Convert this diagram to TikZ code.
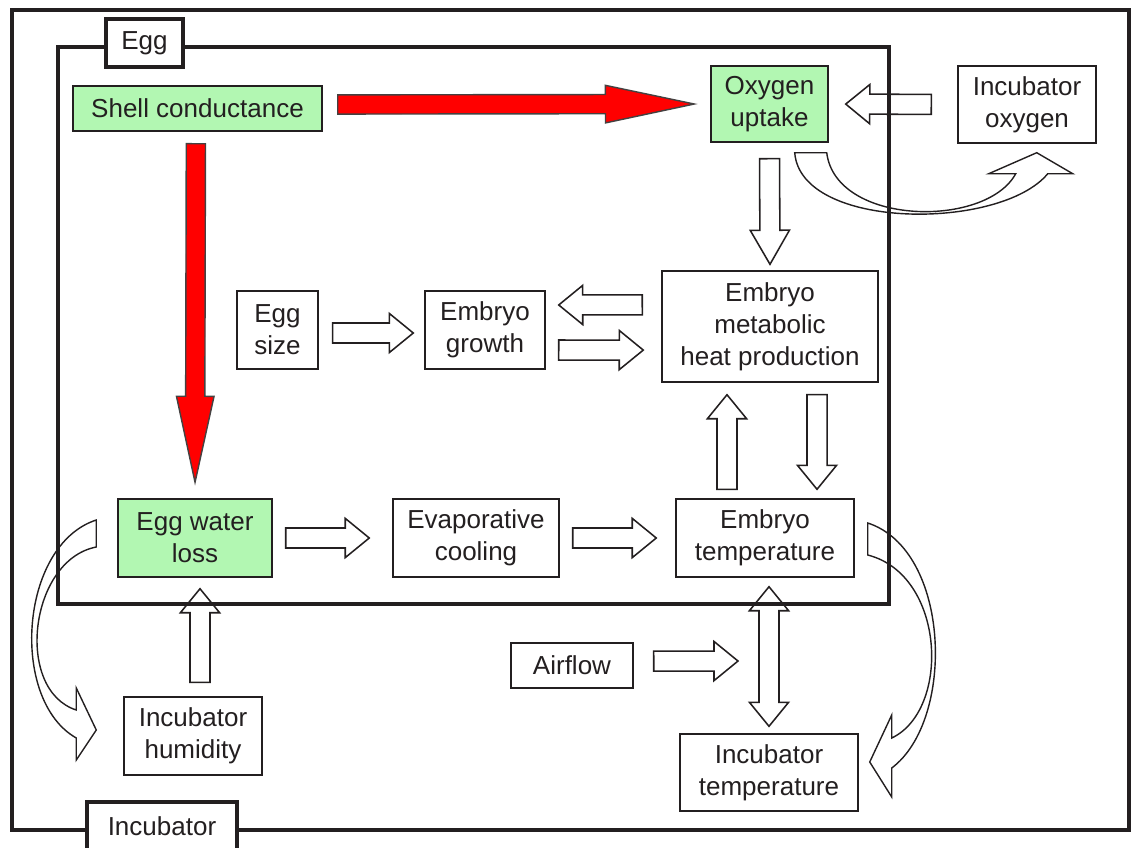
\documentclass[tikz,border=0pt]{standalone}
\usepackage{fontspec}
\setmainfont{Liberation Sans}
\usepackage{tikz}
\usetikzlibrary{calc}
\definecolor{lgreen}{RGB}{178,247,178}
\definecolor{ink}{RGB}{35,31,32}
\newcommand\fs{\fontsize{18.5}{22.8}\selectfont}
\tikzset{bx/.style={draw=ink,line width=1pt,text=ink,align=center,inner sep=0pt,font=\fs},
  gbx/.style={bx,fill=lgreen},
  tab/.style={draw=ink,fill=white,line width=2.2pt,text=ink,inner sep=0pt,font=\fs},
  wall/.style={draw=ink,line width=2.9pt},
  ribbon/.style={draw=ink,line width=1pt,line join=miter},
  fat tail/.store in=\fattail, fat tip/.store in=\fattip,
  fat shaft/.store in=\fatshaft, fat head/.store in=\fathead, fat len/.store in=\fatlen,
  fat tail=0.3cm, fat tip=0.3cm, fat shaft=0.25cm, fat head=0.49cm, fat len=0.6cm,
  fat/.style={draw=ink,line width=1.1pt,line join=miter,to path={
    let \p1=($(\tikztostart)!\fattail!(\tikztotarget)$),
        \p2=($(\tikztotarget)!\fattip!(\tikztostart)$),
        \p3=($(\p2)!\fatlen!(\p1)$) in
    ($(\p1)!\fatshaft!90:(\p2)$) -- ($(\p3)!\fatshaft!-90:(\p1)$) -- ($(\p3)!\fathead!-90:(\p1)$)
    -- (\p2) -- ($(\p3)!\fathead!90:(\p1)$) -- ($(\p3)!\fatshaft!90:(\p1)$)
    -- ($(\p1)!\fatshaft!-90:(\p2)$) -- cycle}},
  fatboth/.style={draw=ink,line width=1.1pt,line join=miter,to path={
    let \p1=($(\tikztostart)!\fattail!(\tikztotarget)$),
        \p2=($(\tikztotarget)!\fattip!(\tikztostart)$),
        \p3=($(\p2)!\fatlen!(\p1)$),
        \p4=($(\p1)!\fatlen!(\p2)$) in
    (\p1) -- ($(\p4)!\fathead!90:(\p2)$) -- ($(\p4)!\fatshaft!90:(\p2)$)
    -- ($(\p3)!\fatshaft!-90:(\p1)$) -- ($(\p3)!\fathead!-90:(\p1)$) -- (\p2)
    -- ($(\p3)!\fathead!90:(\p1)$) -- ($(\p3)!\fatshaft!90:(\p1)$)
    -- ($(\p4)!\fatshaft!-90:(\p2)$) -- ($(\p4)!\fathead!-90:(\p2)$) -- cycle}},
  redfat/.style={fat,fill=red,draw=ink!85,line width=1pt,fat shaft=0.24cm,fat head=0.47cm,fat len=2.22cm}}

\begin{document}
\begin{tikzpicture}[x=0.025cm,y=-0.025cm]
    \useasboundingbox (0,0) rectangle (1132,848);
    % incubator and egg walls
    \draw[wall] (12,10) rectangle (1129,830);
    \draw[wall] (58,47) rectangle (889,604);
    \node[tab,minimum width=1.925cm,minimum height=1.2cm] (eggtab) at (144.5,43) {Egg};
    \node[tab,minimum width=3.75cm,minimum height=1.2cm] (inctab) at (162,826) {Incubator};

    \node[gbx,minimum width=6.225cm,minimum height=1.125cm] (shell) at (197.5,108.5) {Shell conductance};
    \node[gbx,minimum width=2.925cm,minimum height=1.9cm] (uptake) at (769.5,104) {Oxygen\\uptake};
    \node[bx,minimum width=3.45cm,minimum height=1.925cm] (incox) at (1027,104.5) {Incubator\\oxygen};
    \node[bx,minimum width=2.025cm,minimum height=1.95cm] (eggsize) at (277.5,330) {Egg\\size};
    \node[bx,minimum width=3cm,minimum height=1.95cm] (growth) at (485,330) {Embryo\\growth};
    \node[bx,minimum width=5.4cm,minimum height=2.775cm] (heat) at (770,326.5) {Embryo\\metabolic\\heat production};
    \node[gbx,minimum width=3.85cm,minimum height=1.95cm] (water) at (195,538) {Egg water\\loss};
    \node[bx,minimum width=4.15cm,minimum height=1.95cm] (evap) at (476,538) {Evaporative\\cooling};
    \node[bx,minimum width=4.45cm,minimum height=1.95cm] (temp) at (765,538) {Embryo\\temperature};
    \node[bx,minimum width=3.05cm,minimum height=1.125cm] (airflow) at (572,665.5) {Airflow};
    \node[bx,minimum width=3.45cm,minimum height=1.95cm] (humid) at (193,736) {Incubator\\humidity};
    \node[bx,minimum width=4.45cm,minimum height=1.925cm] (inctemp) at (769,772.5) {Incubator\\temperature};
    \coordinate (exch) at (770,661);

    % red arrows
    \draw[redfat,fat tail=0.375cm,fat tip=0.4cm] ([yshift=0.1cm]shell.east) to (uptake.west);
    \draw[redfat,fat tail=0.3cm,fat tip=0.4cm,fat len=2.15cm] ([xshift=-0.04cm]shell.south) to (water.north);

    % open arrows
    \draw[fat,fat tail=0.65cm,fat tip=0.425cm] (incox.west) to (uptake.east);
    \draw[fat,fat tail=0.4cm,fat tip=0.15cm,fat len=0.85cm] (uptake.south) to (heat.north);
    \draw[fat,fat tail=0.475cm,fat tip=0.325cm] ([yshift=0.54cm]heat.west) to ([yshift=0.625cm]growth.east);
    \draw[fat,fat tail=0.325cm,fat tip=0.45cm] ([yshift=-0.5cm]growth.east) to ([yshift=-0.59cm]heat.west);
    \draw[fat,fat tail=0.35cm,fat tip=0.275cm] ([yshift=-0.075cm]eggsize.east) to ([yshift=-0.075cm]growth.west);
    \draw[fat,fat tail=0.325cm,fat tip=0.575cm] (water.east) to (evap.west);
    \draw[fat,fat tail=0.325cm,fat tip=0.475cm] (evap.east) to (temp.west);
    \draw[fat,fat tail=0.225cm,fat tip=0.3cm] ([xshift=-0.95cm]temp.north) to ([xshift=-1.075cm]heat.south);
    \draw[fat,fat tail=0.3cm,fat tip=0.225cm] ([xshift=1.175cm]heat.south) to ([xshift=1.3cm]temp.north);
    \draw[fat,fat tail=0.35cm,fat tip=0.275cm] ([xshift=0.175cm]humid.north) to ([xshift=0.125cm]water.south);
    \draw[fat,fat tail=0.5cm,fat tip=0.8cm] ([yshift=0.11cm]airflow.east) to (exch);
    \draw[fatboth,fat tail=0.225cm,fat tip=0.175cm] ([xshift=0.1cm]temp.south) to (inctemp.north);

    % curved exchange arrows
    \begin{scope}[shift={(uptake.south east)}]
      \draw[ribbon] (-34,10) -- (-2,10) .. controls +(9,73) and +(-30,55) .. (187,31) -- (160,31)
        -- (208,10) -- (244,31) -- (219,31) .. controls +(-47,57) and +(6,78) .. (-34,10) -- cycle;
    \end{scope}
    \begin{scope}[shift={(water.west)}]
      \draw[ribbon] (-21,-18) -- (-21,9) .. controls +(-67,13) and +(-62,-20) .. (-41,172) -- (-41,150)
        -- (-21,192) -- (-41,222) -- (-41,200) .. controls +(-67,-38) and +(-77,25) .. (-21,-18) -- cycle;
    \end{scope}
    \begin{scope}[shift={(temp.east)}]
      \draw[ribbon] (13,-15) -- (13,17) .. controls +(78,20) and +(59,-28) .. (37,200) -- (37,177)
        -- (15,224) -- (37,259) -- (37,230) .. controls +(64,-48) and +(83,27) .. (13,-15) -- cycle;
    \end{scope}
\end{tikzpicture}
\end{document}
